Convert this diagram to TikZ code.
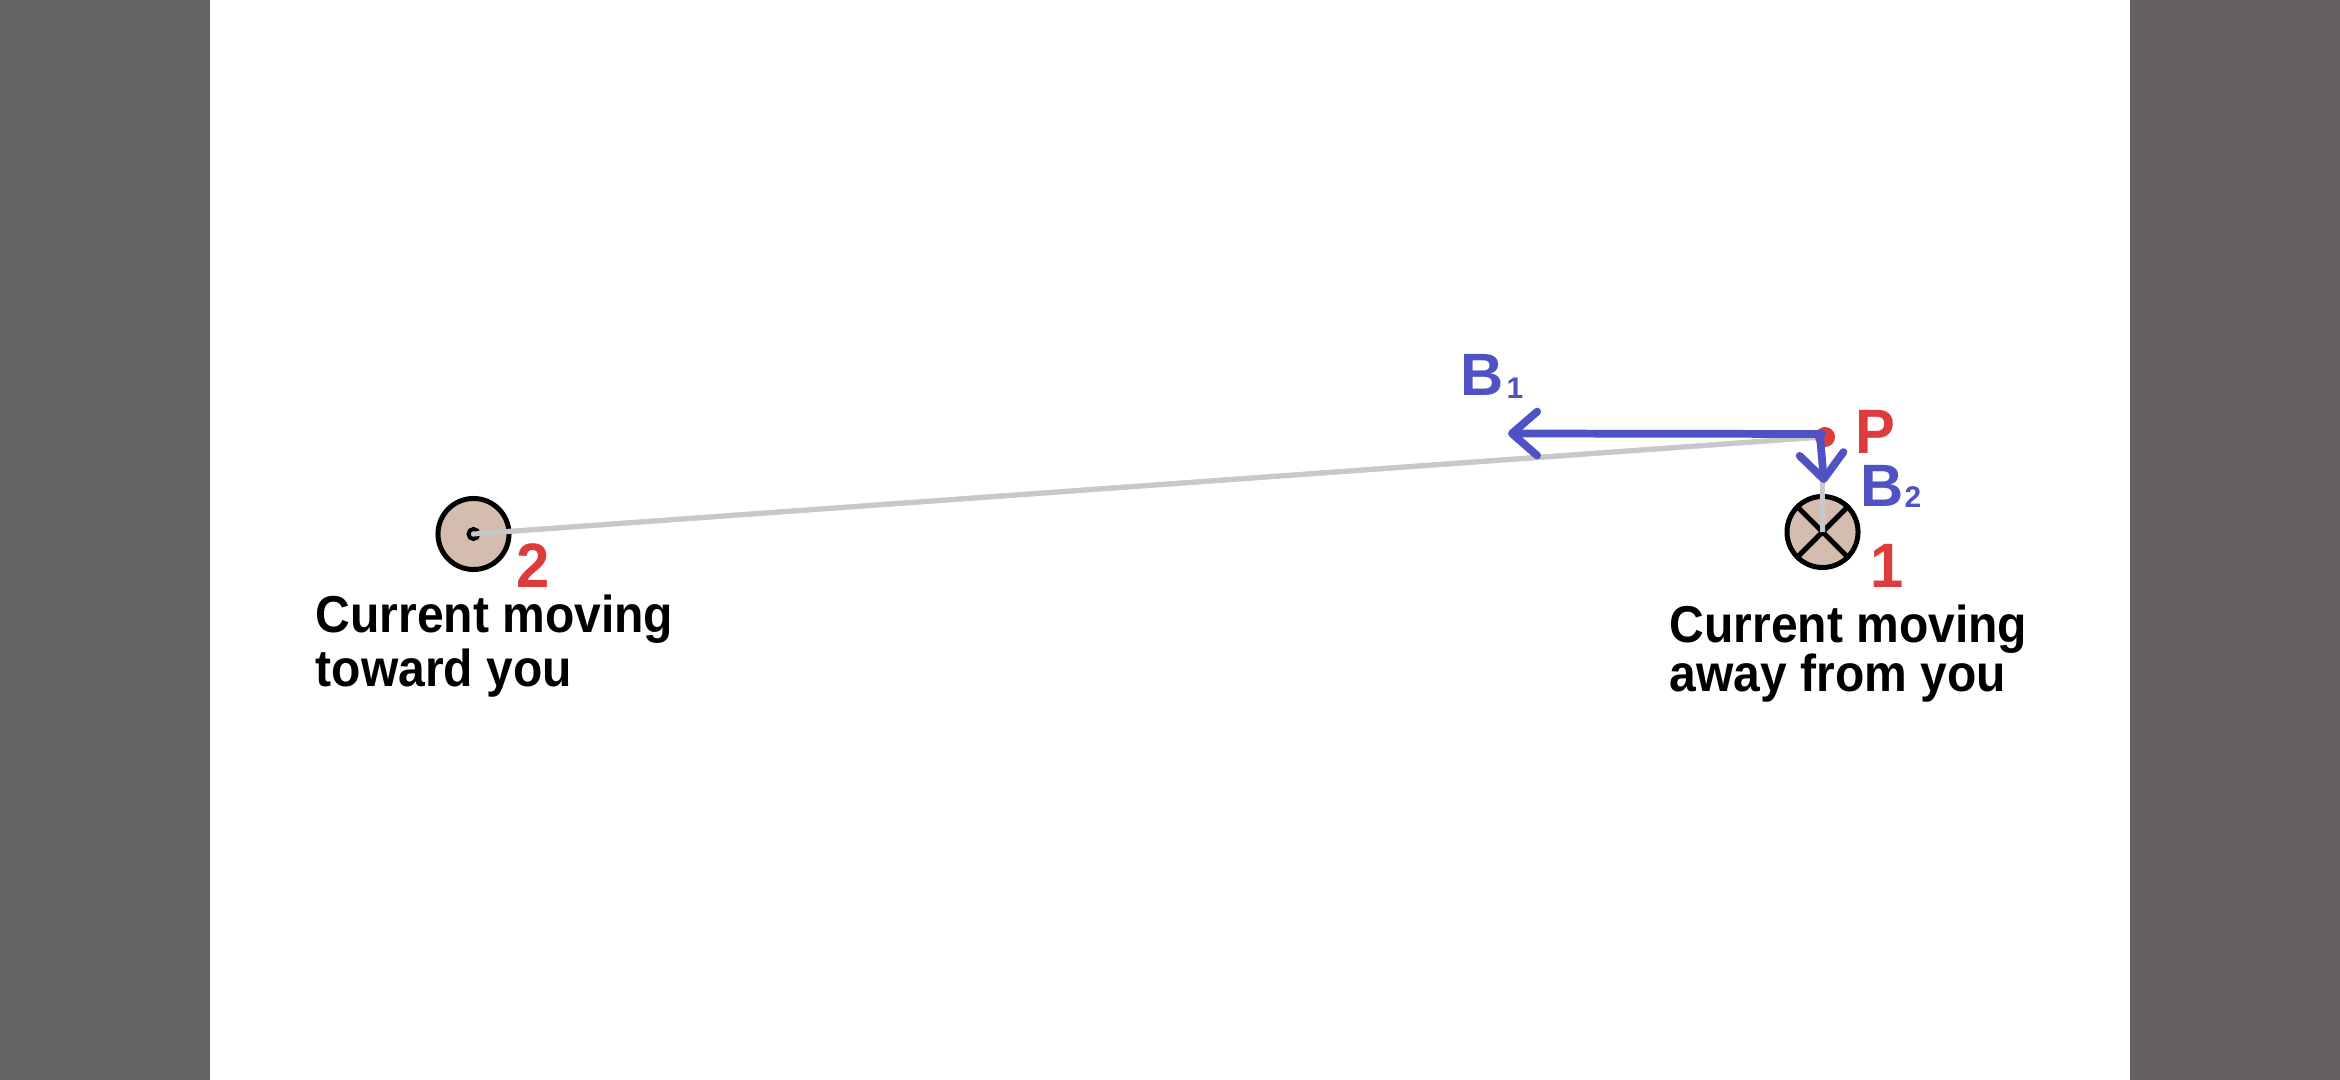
\documentclass[tikz,border=0pt]{standalone}
\usepackage{fontspec}
\setmainfont{Liberation Sans}
\usetikzlibrary{arrows.meta}
\definecolor{sidegray}{HTML}{636363}
\definecolor{sidegrayR}{HTML}{646061}
\definecolor{tan}{HTML}{D4BDAE}
\definecolor{linegray}{HTML}{C8C8C8}
\definecolor{fieldblue}{HTML}{4F51C4}
\definecolor{labelred}{HTML}{DC3C3C}
\tikzset{
  wire/.style={circle, draw=black, fill=tan, line width=1.42pt, minimum size=0.71cm, inner sep=0pt},
  sightline/.style={draw=linegray, line width=1.42pt},
  field/.style={draw=fieldblue, line width=2.2pt, line cap=round,
    -{Straight Barb[length=7.2pt,width=12.5pt,line width=2.2pt,round]}},
  caption/.style={anchor=base west, inner sep=0pt, font=\bfseries\fontsize{13.66pt}{15pt}\selectfont},
  bigred/.style={inner sep=0pt, text=labelred, font=\bfseries\fontsize{17pt}{18pt}\selectfont},
  bigblue/.style={inner sep=0pt, text=fieldblue, font=\bfseries\fontsize{17pt}{18pt}\selectfont},
  subblue/.style={inner sep=0pt, text=fieldblue, font=\bfseries\fontsize{8.5pt}{9pt}\selectfont},
}
\begin{document}
\begin{tikzpicture}[x=0.01cm, y=-0.01cm]
\useasboundingbox (0,0) rectangle (2340,1080);
\fill[white] (0,0) rectangle (2340,1080);
\fill[sidegray] (0,0) rectangle (210,1080);
\fill[sidegrayR] (2130,0) rectangle (2340,1080);

% wires
\node[wire] (c2) at (473.5,534) {};
\node[wire] (c1) at (1822.5,532) {};
\draw[line width=1.42pt] (c1.45) -- (c1.225) (c1.135) -- (c1.315);

% point P
\coordinate (P) at (1822,437);
\path[sightline] (c2.center) -- (P) -- (c1.center);
\node[circle, draw=black, fill=linegray, line width=1.14pt, minimum size=0.1cm, inner sep=0pt] (dot2) at (c2.center) {};
\path[sightline] (dot2.center) -- (P);
\node[circle, fill=labelred, minimum size=0.2cm, inner sep=0pt] (Pdot) at (1825,437) {};

% field arrows
\coordinate (B1tip) at (1508,433.5);
\coordinate (B2tip) at (1824,483);
\draw[field] (1822,434) coordinate (B1start) -- (B1tip);
\draw[field] (1820,436) coordinate (B2start) -- (B2tip);

% labels
\node[bigred] (Plabel) at (1875,432) {\scalebox{1}[1.05]{P}};
\node[bigred] (one) at (1887,566) {\scalebox{1}[1.05]{1}};
\node[bigred] (two) at (533,566) {\scalebox{1}[1.05]{2}};
\node[bigblue] (B1) at (1482,375) {B};
\node[subblue] (B1sub) at (1515,388) {1};
\node[bigblue] (B2) at (1882,486) {B};
\node[subblue] (B2sub) at (1913,497) {2};

\node[caption] (t2a) at (315,633) {\scalebox{1}[1.08]{Current moving}};
\node[caption] (t2b) at (315,687) {\scalebox{1}[1.08]{toward you}};
\node[caption] (t1a) at (1669,643) {\scalebox{1}[1.08]{Current moving}};
\node[caption] (t1b) at (1669,692) {\scalebox{1}[1.08]{away from you}};
\end{tikzpicture}
\end{document}
